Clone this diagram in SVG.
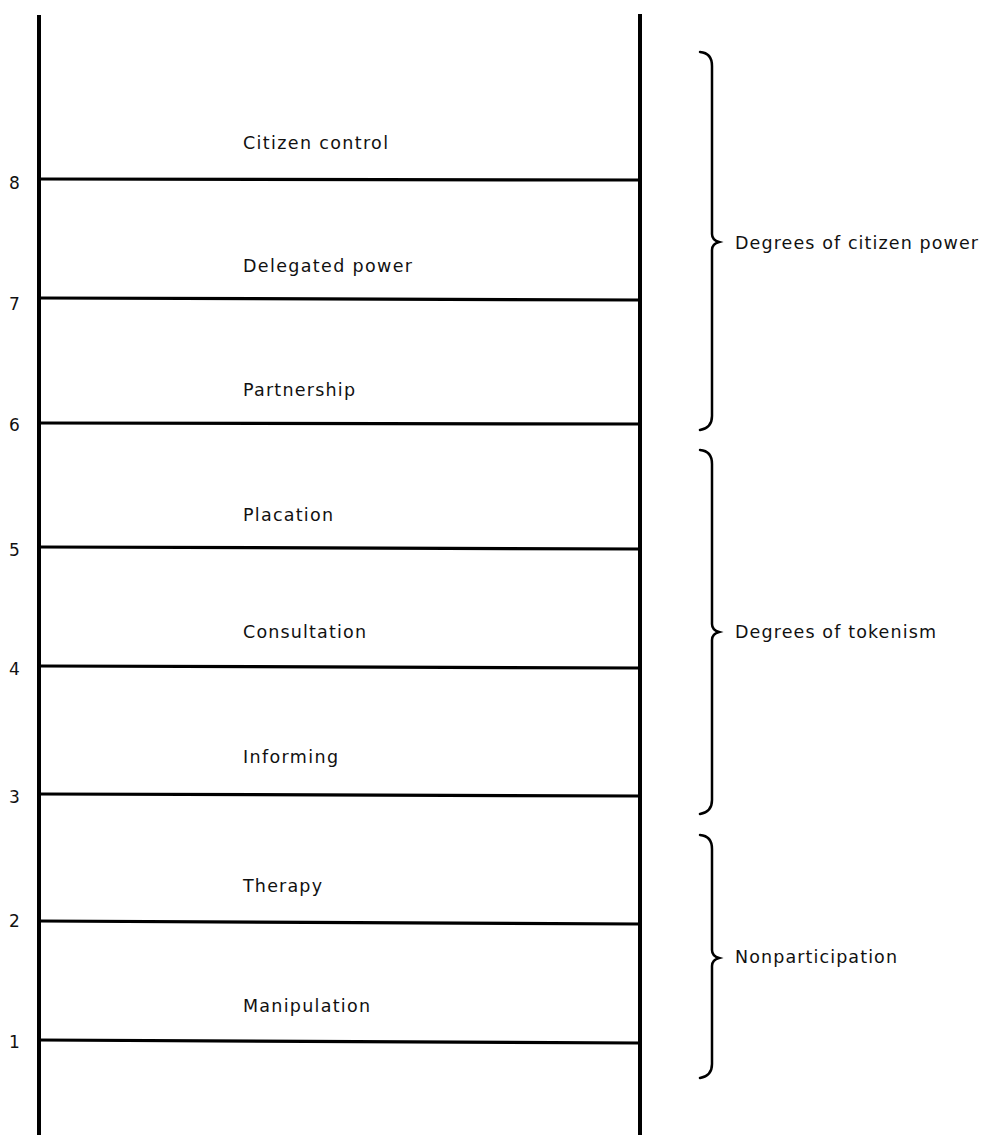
<svg xmlns="http://www.w3.org/2000/svg" width="987" height="1135" viewBox="0 0 987 1135">
<style>
.rail{stroke:#000;stroke-width:4;fill:none}
.rung{stroke:#000;stroke-width:3.2;fill:none}
.brace{stroke:#000;stroke-width:2.5;fill:none;stroke-linecap:round}
.lbl{font-family:"DejaVu Sans","Liberation Sans",Arial,sans-serif;font-size:17.5px;fill:#111}
.num{font-family:"DejaVu Sans","Liberation Sans",Arial,sans-serif;font-size:17px;fill:#111}
</style>
<rect width="987" height="1135" fill="#fff"/>
<g id="ladder">
<line class="rail" x1="39" y1="15" x2="39" y2="1135"/>
<line class="rail" x1="640" y1="14" x2="640" y2="1135"/>
</g>
<g id="connectors">
<line class="rung" x1="39" y1="179" x2="640" y2="180"/>
<line class="rung" x1="39" y1="298" x2="640" y2="300"/>
<line class="rung" x1="39" y1="423" x2="640" y2="424"/>
<line class="rung" x1="39" y1="547" x2="640" y2="549"/>
<line class="rung" x1="39" y1="666" x2="640" y2="668"/>
<line class="rung" x1="39" y1="794" x2="640" y2="796"/>
<line class="rung" x1="39" y1="921" x2="640" y2="924"/>
<line class="rung" x1="39" y1="1040" x2="640" y2="1043"/>
</g>
<g id="rung-numbers">
<text class="num" x="9" y="189">8</text>
<text class="num" x="9" y="310">7</text>
<text class="num" x="9" y="431">6</text>
<text class="num" x="9" y="556">5</text>
<text class="num" x="9" y="675">4</text>
<text class="num" x="9" y="803">3</text>
<text class="num" x="9" y="927">2</text>
<text class="num" x="9" y="1048">1</text>
</g>
<g id="node-8"><text class="lbl" x="243" y="149" textLength="145" lengthAdjust="spacing">Citizen control</text></g>
<g id="node-7"><text class="lbl" x="243" y="272" textLength="169" lengthAdjust="spacing">Delegated power</text></g>
<g id="node-6"><text class="lbl" x="243" y="396" textLength="112" lengthAdjust="spacing">Partnership</text></g>
<g id="node-5"><text class="lbl" x="243" y="521" textLength="90" lengthAdjust="spacing">Placation</text></g>
<g id="node-4"><text class="lbl" x="243" y="638" textLength="123" lengthAdjust="spacing">Consultation</text></g>
<g id="node-3"><text class="lbl" x="243" y="763" textLength="95" lengthAdjust="spacing">Informing</text></g>
<g id="node-2"><text class="lbl" x="243" y="892" textLength="79" lengthAdjust="spacing">Therapy</text></g>
<g id="node-1"><text class="lbl" x="243" y="1012" textLength="127" lengthAdjust="spacing">Manipulation</text></g>
<g id="group-citizen-power">
<path class="brace" d="M700,52 Q712,53 712,66 L712,234 Q712,240 719,242 Q712,244 712,250 L712,416 Q712,428 700,430"/>
<text class="lbl" x="735" y="249" textLength="243" lengthAdjust="spacing">Degrees of citizen power</text>
</g>
<g id="group-tokenism">
<path class="brace" d="M700,450 Q712,451 712,464 L712,624 Q712,630 719,632 Q712,634 712,640 L712,800 Q712,812 700,814"/>
<text class="lbl" x="735" y="638" textLength="201" lengthAdjust="spacing">Degrees of tokenism</text>
</g>
<g id="group-nonparticipation">
<path class="brace" d="M700,835 Q712,836 712,849 L712,950 Q712,956 719,958 Q712,960 712,966 L712,1064 Q712,1076 700,1078"/>
<text class="lbl" x="735" y="963" textLength="162" lengthAdjust="spacing">Nonparticipation</text>
</g>
</svg>
